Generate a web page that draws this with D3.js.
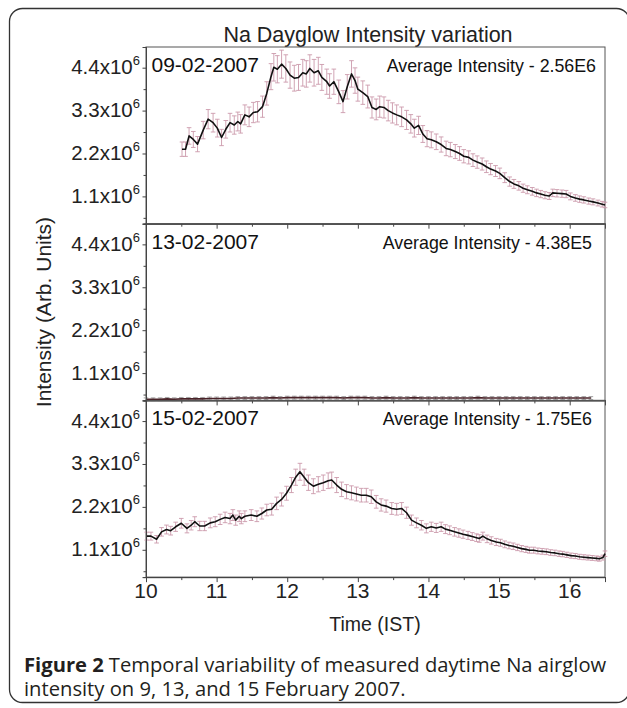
<!DOCTYPE html>
<html>
<head>
<meta charset="utf-8">
<script src="https://cdn.jsdelivr.net/npm/d3@7"></script>
<style>
  body { margin: 0; background: #fff; }
  svg { display: block; }
</style>
</head>
<body>
<svg id="chart" width="627" height="708"></svg>
<script>
// values in units of 1e6 (Arb. Units), time in hours IST
var day09 = [[10.51,2.31],[10.56,2.31],[10.61,2.65],[10.67,2.56],[10.73,2.44],[10.81,2.80],[10.88,3.08],[10.95,2.99],[11.01,2.85],[11.07,2.61],
  [11.13,2.82],[11.19,2.99],[11.25,2.93],[11.30,3.02],[11.34,2.96],[11.40,3.19],[11.46,3.14],[11.52,3.25],[11.58,3.27],[11.65,3.40],
  [11.71,3.74],[11.77,4.17],[11.81,4.41],[11.86,4.36],[11.92,4.49],[11.98,4.38],[12.04,4.21],[12.10,4.13],[12.16,4.15],[12.22,4.27],
  [12.27,4.24],[12.32,4.38],[12.38,4.27],[12.44,4.32],[12.49,4.15],[12.56,4.04],[12.60,3.93],[12.66,4.04],[12.73,3.78],[12.79,3.53],
  [12.85,3.91],[12.91,4.24],[12.96,4.07],[13.00,3.85],[13.07,3.76],[13.14,3.66],[13.20,3.38],[13.26,3.33],[13.31,3.40],[13.37,3.38],
  [13.43,3.30],[13.49,3.24],[13.55,3.19],[13.62,3.14],[13.69,3.06],[13.75,2.96],[13.80,2.85],[13.86,2.92],[13.92,2.70],[13.98,2.58],
  [14.04,2.55],[14.11,2.50],[14.18,2.43],[14.25,2.33],[14.31,2.30],[14.38,2.25],[14.44,2.20],[14.50,2.13],[14.57,2.10],[14.63,2.03],
  [14.69,1.98],[14.76,1.93],[14.82,1.86],[14.88,1.80],[14.95,1.75],[15.01,1.69],[15.08,1.58],[15.15,1.48],[15.21,1.42],[15.28,1.37],
  [15.34,1.31],[15.40,1.27],[15.47,1.23],[15.53,1.19],[15.59,1.16],[15.65,1.13],[15.71,1.11],[15.76,1.19],[15.82,1.18],[15.89,1.17],
  [15.95,1.16],[16.01,1.10],[16.08,1.06],[16.14,1.03],[16.20,1.01],[16.27,0.98],[16.33,0.96],[16.40,0.93],[16.46,0.90],[16.50,0.88]];

var day13 = [[10.0,0.43],[10.1,0.43],[10.2,0.43],[10.3,0.44],[10.4,0.43],[10.5,0.44],[10.6,0.44],[10.7,0.44],[10.8,0.44],[10.9,0.45],
  [11.0,0.45],[11.1,0.45],[11.2,0.45],[11.3,0.46],[11.4,0.46],[11.5,0.46],[11.6,0.46],[11.7,0.46],[11.8,0.47],[11.9,0.46],
  [12.0,0.47],[12.1,0.47],[12.2,0.47],[12.3,0.47],[12.4,0.47],[12.5,0.47],[12.6,0.47],[12.7,0.47],[12.8,0.46],[12.9,0.47],
  [13.0,0.47],[13.1,0.47],[13.2,0.46],[13.3,0.46],[13.4,0.47],[13.5,0.46],[13.6,0.46],[13.7,0.46],[13.8,0.47],[13.9,0.46],
  [14.0,0.46],[14.1,0.46],[14.2,0.46],[14.3,0.46],[14.4,0.46],[14.5,0.46],[14.6,0.46],[14.7,0.47],[14.8,0.46],[14.9,0.46],
  [15.0,0.46],[15.1,0.46],[15.2,0.46],[15.3,0.46],[15.4,0.46],[15.5,0.46],[15.6,0.46],[15.7,0.46],[15.8,0.46],[15.9,0.46],
  [16.0,0.46],[16.1,0.46],[16.2,0.46],[16.3,0.46]];

var day15 = [[10.01,1.45],[10.07,1.45],[10.15,1.37],[10.22,1.56],[10.29,1.62],[10.35,1.59],[10.42,1.69],[10.50,1.78],[10.58,1.65],[10.64,1.73],
  [10.69,1.82],[10.76,1.71],[10.83,1.71],[10.91,1.79],[10.98,1.82],[11.05,1.88],[11.12,1.93],[11.19,1.90],[11.23,1.99],[11.27,1.86],
  [11.32,1.96],[11.35,1.90],[11.40,1.96],[11.49,1.99],[11.57,1.96],[11.64,2.03],[11.71,2.12],[11.78,2.14],[11.85,2.29],[11.92,2.39],
  [11.99,2.55],[12.06,2.76],[12.12,2.96],[12.18,3.10],[12.24,2.96],[12.30,2.82],[12.37,2.73],[12.44,2.78],[12.51,2.82],[12.58,2.87],
  [12.63,2.89],[12.70,2.76],[12.77,2.65],[12.84,2.59],[12.91,2.56],[12.98,2.53],[13.05,2.50],[13.12,2.50],[13.19,2.46],[13.26,2.33],
  [13.33,2.25],[13.40,2.22],[13.48,2.16],[13.55,2.14],[13.62,2.16],[13.69,2.05],[13.76,1.86],[13.83,1.79],[13.90,1.73],[13.97,1.65],
  [14.04,1.69],[14.11,1.66],[14.18,1.69],[14.24,1.63],[14.30,1.60],[14.37,1.56],[14.43,1.53],[14.49,1.50],[14.56,1.47],[14.62,1.44],
  [14.68,1.41],[14.72,1.39],[14.77,1.45],[14.83,1.38],[14.89,1.34],[14.96,1.30],[15.02,1.28],[15.08,1.24],[15.14,1.21],[15.20,1.19],
  [15.26,1.16],[15.32,1.13],[15.38,1.11],[15.43,1.09],[15.49,1.09],[15.55,1.07],[15.61,1.06],[15.67,1.05],[15.73,1.03],[15.79,1.02],
  [15.85,1.00],[15.90,0.99],[15.96,0.97],[16.02,0.95],[16.08,0.94],[16.14,0.92],[16.20,0.91],[16.26,0.90],[16.32,0.89],[16.38,0.88],
  [16.42,0.87],[16.47,0.90],[16.50,1.00]];

var dates = ["09-02-2007", "13-02-2007", "15-02-2007"];
var averages = ["2.56E6", "4.38E5", "1.75E6"];
var errFrac = [0.08, 0.08, 0.07];   // error bars read as roughly 7-8% of value
var yTicks = [1.1, 2.2, 3.3, 4.4];
var yMinor = [0.55, 1.65, 2.75, 3.85];
var xTicks = [10, 11, 12, 13, 14, 15, 16];
var xMinor = [10.5, 11.5, 12.5, 13.5, 14.5, 15.5, 16.5];

var series = [day09, day13, day15];

var plotLeft = 146, plotRight = 605, plotTop = 47, panelH = 176.7;
var font = "'Liberation Sans', Arial, sans-serif";

var svg = d3.select("#chart");

// outer frame
svg.append("rect")
    .attr("x", 9.5).attr("y", 8.5)
    .attr("width", 620).attr("height", 694)
    .attr("rx", 13)
    .attr("fill", "none")
    .attr("stroke", "#333")
    .attr("stroke-width", 1.3);

var x = d3.scaleLinear().domain([10, 16.5]).range([plotLeft, plotRight]);

svg.append("text")
    .attr("x", 368).attr("y", 41.5)
    .attr("text-anchor", "middle")
    .style("font-family", font).style("font-size", "21.5px").attr("fill", "#222")
    .text("Na Dayglow Intensity variation");

series.forEach(function(data, i){
    var y0 = plotTop + i * panelH;
    var y = d3.scaleLinear().domain([0.40, 4.93]).range([y0 + panelH, y0]);
    var g = svg.append("g");

    // frame of panel (top + right)
    g.append("rect")
        .attr("x", plotLeft).attr("y", y0)
        .attr("width", plotRight - plotLeft).attr("height", panelH)
        .attr("fill", "none").attr("stroke", "#555").attr("stroke-width", 1);

    var errColor = i == 1 ? "#9a9a9a" : "#cc9aac";
    var eb = g.append("g").attr("stroke", errColor).attr("stroke-width", 0.9);
    data.forEach(function(d){
        var e = d[1] * errFrac[i];
        var cx = x(d[0]);
        eb.append("line").attr("x1", cx).attr("x2", cx).attr("y1", y(d[1] - e)).attr("y2", y(d[1] + e));
        eb.append("line").attr("x1", cx - 2.3).attr("x2", cx + 2.3).attr("y1", y(d[1] - e)).attr("y2", y(d[1] - e));
        eb.append("line").attr("x1", cx - 2.3).attr("x2", cx + 2.3).attr("y1", y(d[1] + e)).attr("y2", y(d[1] + e));
    });

    var line = d3.line().x(function(d){ return x(d[0]); }).y(function(d){ return y(d[1]); });
    g.append("path")
        .datum(data)
        .attr("d", line)
        .attr("fill", "none")
        .attr("stroke", i == 1 ? "#4a2228" : "#111")
        .attr("stroke-width", 1.6)
        .attr("stroke-linejoin", "round");

    // axes
    g.append("g").attr("transform", "translate(" + plotLeft + ",0)")
        .call(d3.axisLeft(y).tickValues(yTicks).tickSize(3.5).tickFormat(""));
    g.append("g").attr("transform", "translate(" + plotLeft + ",0)")
        .call(d3.axisLeft(y).tickValues(yMinor).tickSize(2.5).tickFormat(""));
    g.append("g").attr("transform", "translate(0," + (y0 + panelH) + ")")
        .call(d3.axisBottom(x).tickValues(xTicks).tickSize(5).tickFormat(""));
    g.append("g").attr("transform", "translate(0," + (y0 + panelH) + ")")
        .call(d3.axisBottom(x).tickValues(xMinor).tickSize(3).tickFormat(""));
    g.selectAll(".domain, .tick line").attr("stroke", "#444");

    // y tick labels with superscript
    yTicks.forEach(function(v){
        var t = g.append("text")
            .attr("x", 140).attr("y", y(v) + 6.5)
            .attr("text-anchor", "end")
            .style("font-family", font).style("font-size", "20.5px").attr("fill", "#222");
        t.append("tspan").text(v.toFixed(1) + "x10");
        t.append("tspan").attr("dy", -9).style("font-size", "13px").text("6");
    });

    g.append("text")
        .attr("x", plotLeft + 5.5).attr("y", y0 + 25)
        .style("font-family", font).style("font-size", "21px").attr("fill", "#111")
        .text(dates[i]);
    g.append("text")
        .attr("x", i == 0 ? 596 : 592).attr("y", y0 + 25)
        .attr("text-anchor", "end")
        .style("font-family", font).style("font-size", "17.8px").attr("fill", "#111")
        .text("Average Intensity - " + averages[i]);
});

// x tick labels (bottom panel only)
var bottomY = plotTop + 3 * panelH;
xTicks.forEach(function(t){
    svg.append("text")
        .attr("x", x(t)).attr("y", bottomY + 21)
        .attr("text-anchor", "middle")
        .style("font-family", font).style("font-size", "21px").attr("fill", "#222")
        .text(t);
});

svg.append("text")
    .attr("x", 375).attr("y", 631)
    .attr("text-anchor", "middle")
    .style("font-family", font).style("font-size", "19.5px").attr("fill", "#222")
    .text("Time (IST)");

svg.append("text")
    .attr("transform", "translate(51," + (plotTop + 1.5 * panelH) + ") rotate(-90)")
    .attr("text-anchor", "middle")
    .style("font-family", font).style("font-size", "21px").attr("fill", "#222")
    .text("Intensity (Arb. Units)");

// caption: bold label, then the rest placed after it
var capFont = "'Open Sans', sans-serif";
var capLabel = svg.append("text")
    .attr("x", 24).attr("y", 672)
    .style("font-family", capFont).style("font-size", "20.2px").style("font-weight", "bold")
    .attr("fill", "#231f20")
    .text("Figure 2");
var labelW = capLabel.node().getComputedTextLength();
svg.append("text")
    .attr("x", 24 + labelW + 5).attr("y", 672)
    .style("font-family", capFont).style("font-size", "20.2px").attr("fill", "#231f20")
    .text("Temporal variability of measured daytime Na airglow");
svg.append("text")
    .attr("x", 24).attr("y", 696)
    .style("font-family", capFont).style("font-size", "20.2px").attr("fill", "#231f20")
    .text("intensity on 9, 13, and 15 February 2007.");
</script>
</body>
</html>
